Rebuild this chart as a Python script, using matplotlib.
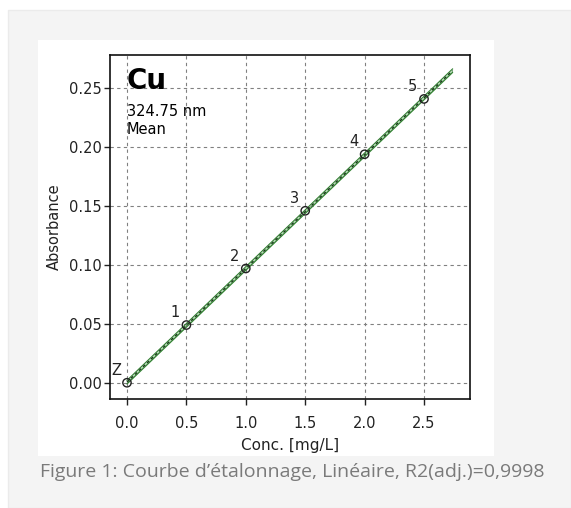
import matplotlib.pyplot as plt
import numpy as np
from matplotlib.patches import Rectangle

# calibration standards
labels = ["Z", "1", "2", "3", "4", "5"]
conc = [0.0, 0.5, 1.0, 1.5, 2.0, 2.5]
absorb = [0.0, 0.049, 0.097, 0.146, 0.194, 0.241]

xticks = [0.0, 0.5, 1.0, 1.5, 2.0, 2.5]
yticks = [0.00, 0.05, 0.10, 0.15, 0.20, 0.25]

W, H = 571, 508
fig = plt.figure(figsize=(W / 100, H / 100), dpi=100)
fig.patch.set_facecolor("white")

# page background + white panel (pixel coordinates)
bg = fig.add_axes([0, 0, 1, 1])
bg.set_xlim(0, W)
bg.set_ylim(H, 0)
bg.axis("off")
bg.add_patch(Rectangle((8, 10), W - 8, H - 10, facecolor="#f4f4f4",
                       edgecolor="#ebebeb", lw=1))
bg.add_patch(Rectangle((38, 40), 456, 416, facecolor="white", edgecolor="none"))
bg.text(40, 472, "Figure 1: Courbe d\u2019étalonnage, Linéaire, R2(adj.)=0,9998",
        fontsize=14, color="#7a7a7a", family="Open Sans", va="center", ha="left")

# plot axes: left 110, right 470, top 55, bottom 399 px
ax = fig.add_axes([110 / W, 1 - 399 / H, 360 / W, 344 / H])
ax.set_xlim(-0.143, 2.887)
ax.set_ylim(-0.0138, 0.2783)

slope, icpt = np.polyfit(conc, absorb, 1)
xf = np.linspace(0.0, 2.74, 50)
yf = slope * xf + icpt
ax.fill_between(xf, yf - 0.0015, yf + 0.0015, color="#b5dcb5", lw=0)
ax.plot(xf, yf + 0.0015, color="#2f7d2f", lw=0.8)
ax.plot(xf, yf - 0.0015, color="#2f7d2f", lw=0.8)
ax.plot(xf, yf, color="#1c3a1c", lw=1.0, ls=(0, (2, 2)))

ax.scatter(conc, absorb, s=36, facecolors="none", edgecolors="#222222", lw=1.0, zorder=5)
for lab, x, y in zip(labels, conc, absorb):
    ax.annotate(lab, (x, y), xytext=(-8, 9), textcoords="offset points",
                fontsize=10.5, color="#222222", ha="center", va="center")

ax.set_xticks(xticks)
ax.set_yticks(yticks)
ax.set_xticklabels([f"{v:.1f}" for v in xticks])
ax.set_yticklabels([f"{v:.2f}" for v in yticks])
ax.tick_params(direction="out", length=4, width=1, labelsize=10.5, colors="#222222")
ax.tick_params(axis="y", pad=2)
ax.tick_params(axis="x", pad=8)
ax.grid(True, ls=(0, (3, 3)), color="#808080", lw=0.8)
for s in ax.spines.values():
    s.set_color("#111111")
    s.set_linewidth(1.2)

ax.set_xlabel("Conc. [mg/L]", fontsize=11, color="#222222", labelpad=5)
ax.set_ylabel("Absorbance", fontsize=10.5, color="#222222", labelpad=5)

ax.text(0.0, 0.256, "Cu", fontsize=20, fontweight="bold", va="center", ha="left")
ax.text(0.0, 0.2299, "324.75 nm", fontsize=10.5, va="center", ha="left")
ax.text(0.0, 0.2154, "Mean", fontsize=10.5, va="center", ha="left")

fig.savefig("out.png", dpi=100)
